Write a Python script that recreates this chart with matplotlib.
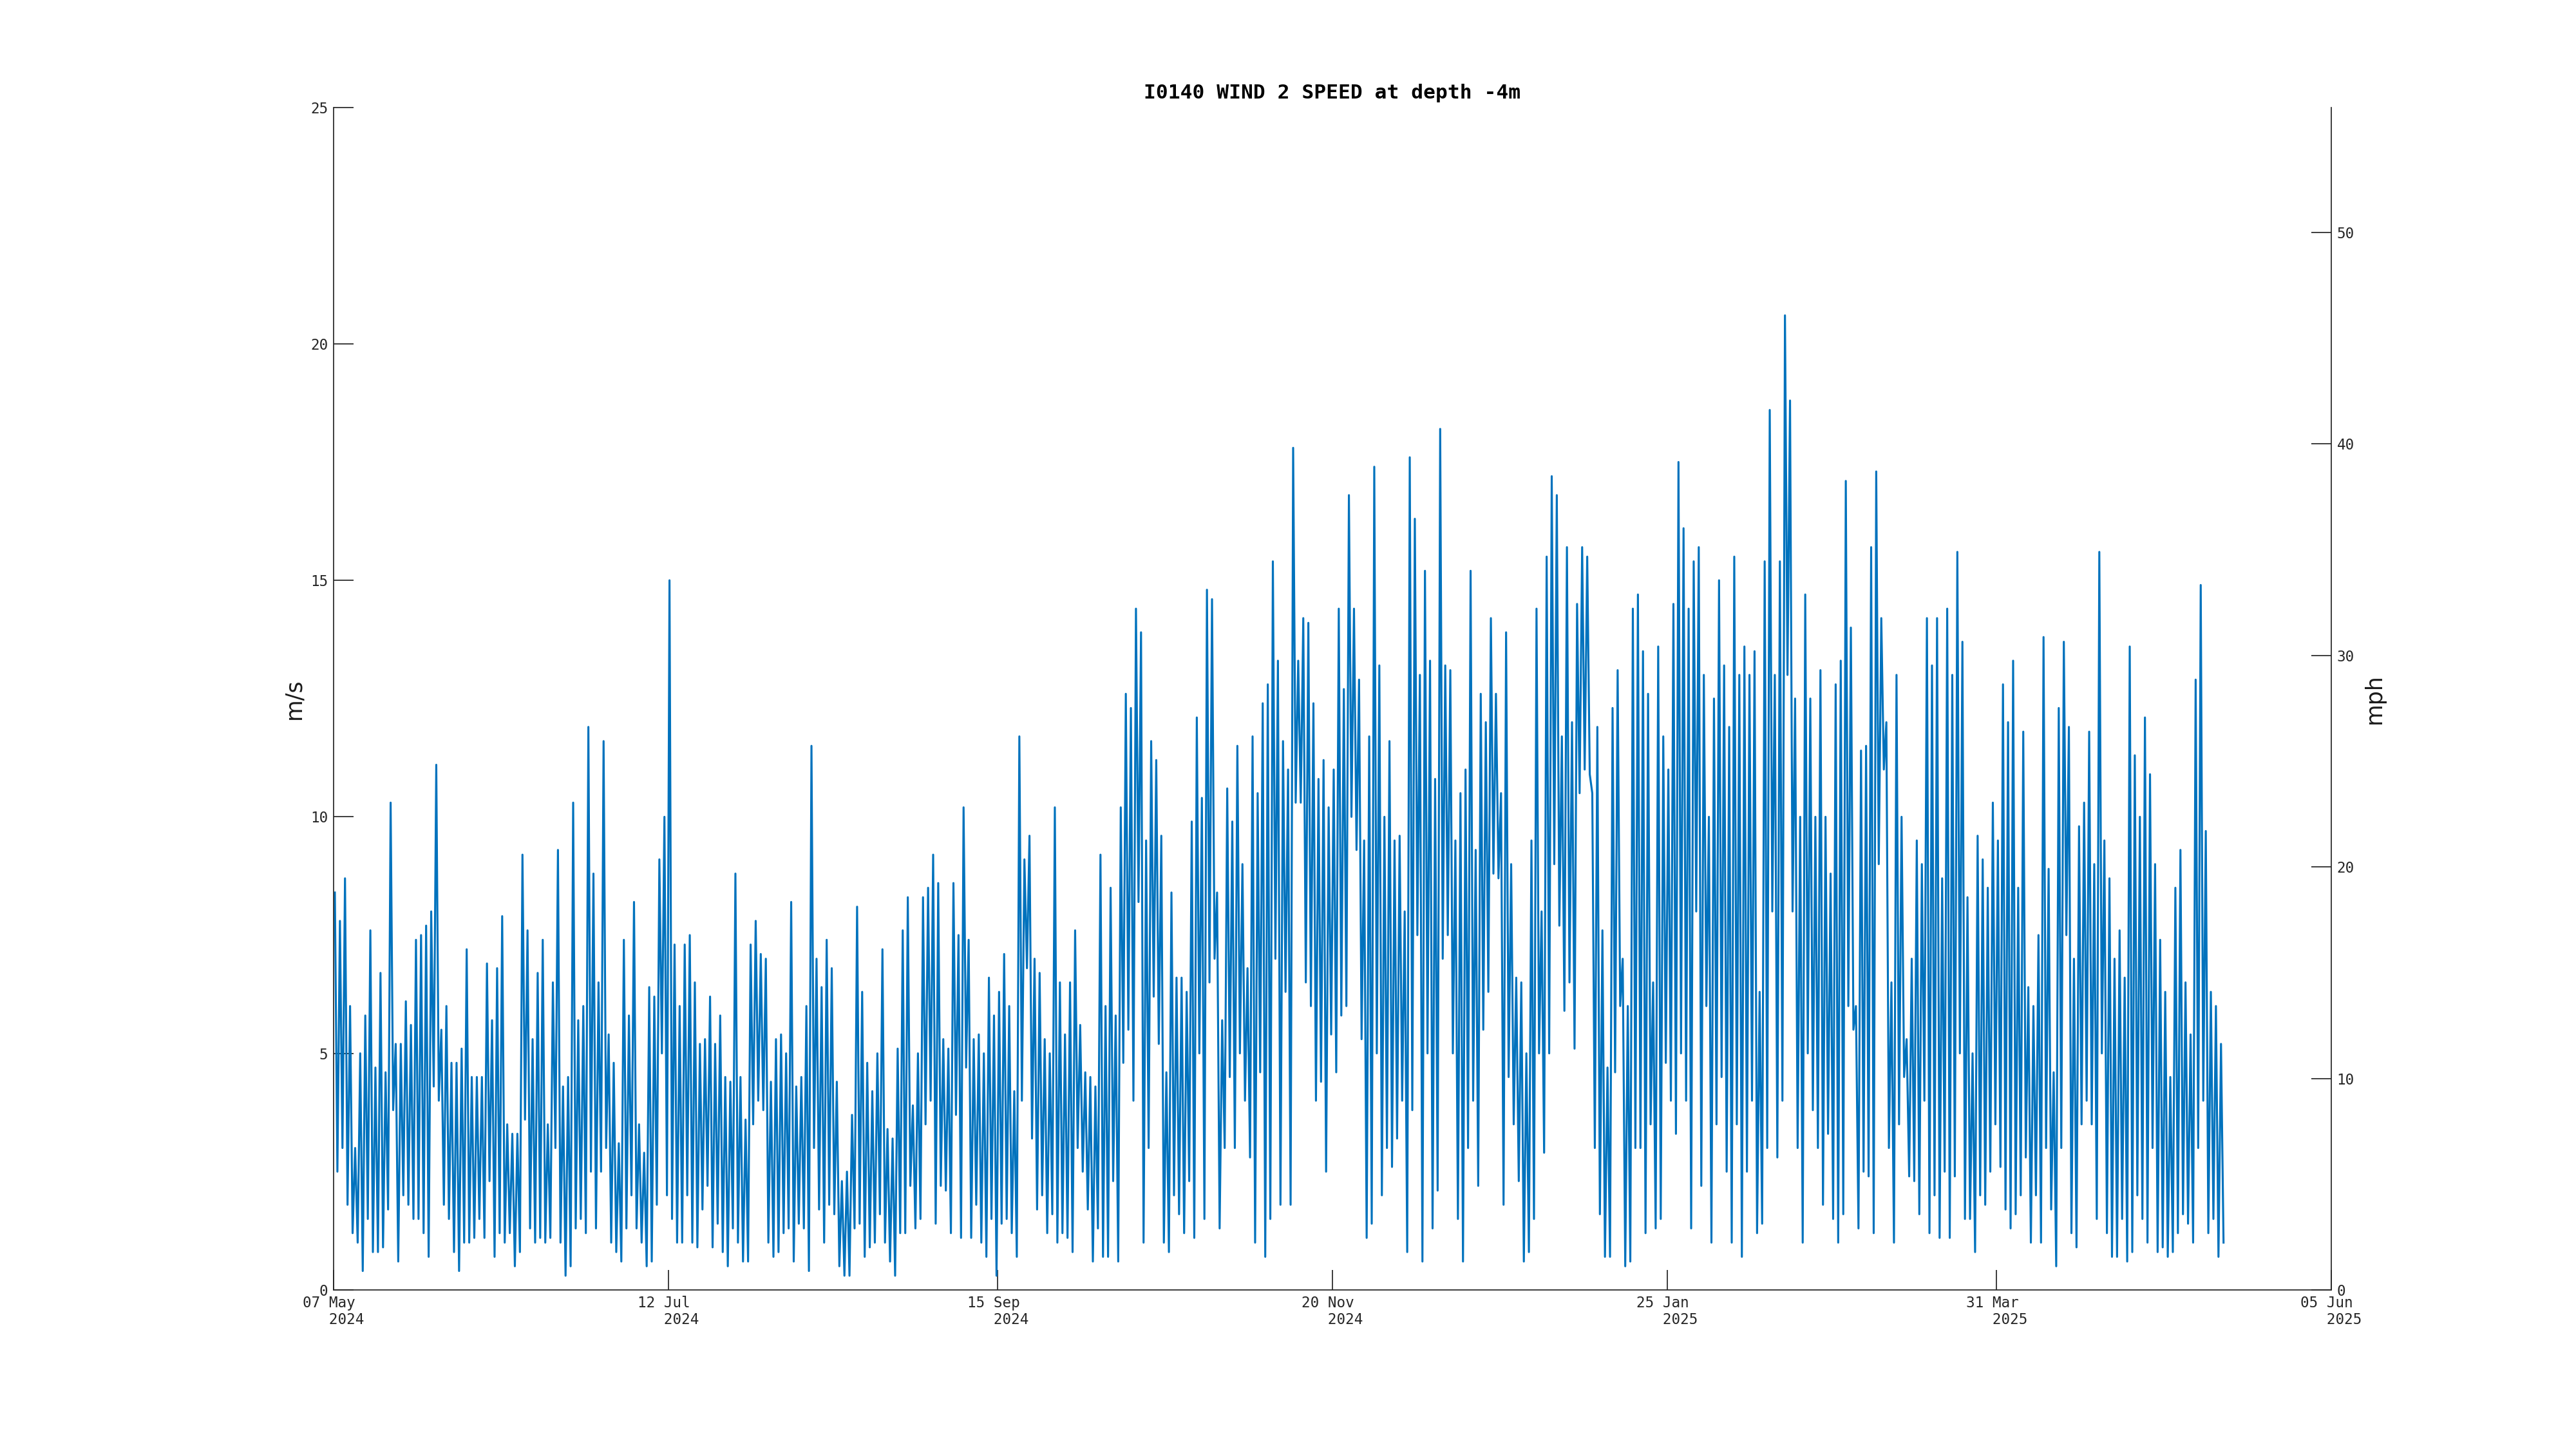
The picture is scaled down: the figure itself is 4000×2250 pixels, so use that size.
import matplotlib
matplotlib.use("Agg")
import matplotlib.pyplot as plt
from datetime import datetime, timedelta

# daily high / low wind speed (m/s), one value per day
start = datetime(2024, 5, 7)

high_may_jul = [8.4, 7.8, 8.7, 6.0, 3.0, 5.0, 5.8, 7.6, 4.7, 6.7,
                4.6, 10.3, 5.2, 5.2, 6.1, 5.6, 7.4, 7.5, 7.7, 8.0,
                11.1, 5.5, 6.0, 4.8, 4.8, 5.1, 7.2, 4.5, 4.5, 4.5,
                6.9, 5.7, 6.8, 7.9, 3.5, 3.3, 3.3, 9.2, 7.6, 5.3,
                6.7, 7.4, 3.5, 6.5, 9.3, 4.3, 4.5, 10.3, 5.7, 6.0,
                11.9, 8.8, 6.5, 11.6, 5.4, 4.8, 3.1, 7.4, 5.8, 8.2,
                3.5, 2.9, 6.4]
low_may_jul = [2.5, 3.0, 1.8, 1.2, 1.0, 0.4, 1.5, 0.8, 0.8, 0.9,
               1.7, 3.8, 0.6, 2.0, 1.8, 1.5, 1.5, 1.2, 0.7, 4.3,
               4.0, 1.8, 1.5, 0.8, 0.4, 1.0, 1.0, 1.1, 1.5, 1.1,
               2.3, 0.7, 1.2, 1.0, 1.2, 0.5, 0.8, 3.6, 1.3, 1.0,
               1.1, 1.0, 1.1, 3.0, 1.0, 0.3, 0.5, 1.3, 1.5, 1.2,
               2.5, 1.3, 2.5, 3.0, 1.0, 0.8, 0.6, 1.3, 2.0, 1.3,
               1.0, 0.5, 0.6]

high_jul_sep = [6.2, 9.1, 10.0, 15.0, 7.3, 6.0, 7.3, 7.5, 6.5, 5.2,
                5.3, 6.2, 5.2, 5.8, 4.5, 4.4, 8.8, 4.5, 3.6, 7.3,
                7.8, 7.1, 7.0, 4.4, 5.3, 5.4, 5.0, 8.2, 4.3, 4.5,
                6.0, 11.5, 7.0, 6.4, 7.4, 6.8, 4.4, 2.3, 2.5, 3.7,
                8.1, 6.3, 4.8, 4.2, 5.0, 7.2, 3.4, 3.2, 5.1, 7.6,
                8.3, 3.9, 5.0, 8.3, 8.5, 9.2, 8.6, 5.3, 5.1, 8.6,
                7.5, 10.2, 7.4, 5.3]
low_jul_sep = [1.8, 5.0, 2.0, 1.5, 1.0, 1.0, 2.0, 1.0, 0.9, 1.7,
               2.2, 0.9, 1.4, 0.8, 0.5, 1.3, 1.0, 0.6, 0.6, 3.5,
               4.0, 3.8, 1.0, 0.7, 0.8, 1.2, 1.3, 0.6, 1.4, 1.3,
               0.4, 3.0, 1.7, 1.0, 1.8, 1.6, 0.5, 0.3, 0.3, 1.3,
               1.4, 0.7, 0.9, 1.0, 1.6, 1.0, 0.6, 0.3, 1.2, 1.2,
               2.2, 1.3, 1.5, 3.5, 4.0, 1.4, 2.2, 2.1, 1.2, 3.7,
               1.1, 4.7, 1.1, 1.8]

high_sep_nov = [5.4, 5.0, 6.6, 5.8, 6.3, 7.1, 6.0, 4.2, 11.7, 9.1,
                9.6, 7.0, 6.7, 5.3, 5.0, 10.2, 6.5, 5.4, 6.5, 7.6,
                5.6, 4.6, 4.5, 4.3, 9.2, 6.0, 8.5, 5.8, 10.2, 12.6,
                12.3, 14.4, 13.9, 9.5, 11.6, 11.2, 9.6, 4.6, 8.4, 6.6,
                6.6, 6.3, 9.9, 12.1, 10.4, 14.8, 14.6, 8.4, 5.7, 10.6,
                9.9, 11.5, 9.0, 6.8, 11.7, 10.5, 12.4, 12.8, 15.4, 13.3,
                11.6, 11.0, 17.8, 13.3]
low_sep_nov = [1.0, 0.7, 1.5, 0.3, 1.4, 1.5, 1.2, 0.7, 4.0, 6.8,
               3.2, 1.7, 2.0, 1.2, 1.6, 1.0, 1.2, 1.1, 0.8, 3.0,
               2.5, 1.7, 0.6, 1.3, 0.7, 0.7, 2.3, 0.6, 4.8, 5.5,
               4.0, 8.2, 1.0, 3.0, 6.2, 5.2, 1.0, 0.8, 2.0, 1.6,
               1.2, 2.3, 1.1, 5.0, 1.5, 6.5, 7.0, 1.3, 3.0, 4.5,
               3.0, 5.0, 4.0, 2.8, 1.0, 4.6, 0.7, 1.5, 7.0, 1.8,
               6.3, 1.8, 10.3, 10.3]

high_nov_jan = [14.2, 14.1, 12.4, 10.8, 11.2, 10.2, 11.0, 14.4, 12.7, 16.8,
                14.4, 12.9, 9.5, 11.7, 17.4, 13.2, 10.0, 11.6, 9.5, 9.6,
                8.0, 17.6, 16.3, 13.0, 15.2, 13.3, 10.8, 18.2, 13.2, 13.1,
                9.5, 10.5, 11.0, 15.2, 9.3, 12.6, 12.0, 14.2, 12.6, 10.5,
                13.9, 9.0, 6.6, 6.5, 5.0, 9.5, 14.4, 8.0, 15.5, 17.2,
                16.8, 11.7, 15.7, 12.0, 14.5, 15.7, 15.5, 10.5, 11.9, 7.6,
                4.7, 12.3, 13.1]
low_nov_jan = [6.5, 6.0, 4.0, 4.4, 2.5, 5.4, 4.6, 5.8, 6.0, 10.0,
               9.3, 5.3, 1.1, 1.4, 5.0, 2.0, 3.0, 2.6, 3.2, 4.0,
               0.8, 3.8, 7.5, 0.6, 5.0, 1.3, 2.1, 7.0, 7.5, 5.0,
               1.5, 0.6, 3.0, 4.0, 2.2, 5.5, 6.3, 8.8, 8.7, 1.8,
               4.5, 3.5, 2.3, 0.6, 0.8, 1.5, 5.0, 2.9, 5.0, 9.0,
               7.7, 5.9, 6.5, 5.1, 10.5, 11.0, 10.9, 3.0, 1.6, 0.7,
               0.7, 4.6, 6.0]

high_jan_mar = [7.0, 6.0, 14.4, 14.7, 13.5, 12.6, 6.5, 13.6, 11.7, 11.0,
                14.5, 17.5, 16.1, 14.4, 15.4, 15.7, 13.0, 10.0, 12.5, 15.0,
                13.2, 11.9, 15.5, 13.0, 13.6, 13.0, 13.5, 6.3, 15.4, 18.6,
                13.0, 15.4, 20.6, 18.8, 12.5, 10.0, 14.7, 12.5, 10.0, 13.1,
                10.0, 8.8, 12.8, 13.3, 17.1, 14.0, 6.0, 11.4, 11.5, 15.7,
                17.3, 14.2, 12.0, 6.5, 13.0, 10.0, 5.3, 7.0, 9.5, 9.0,
                14.2, 13.2, 14.2, 8.7]
low_jan_mar = [0.5, 0.6, 3.0, 3.0, 1.2, 3.5, 1.3, 1.5, 4.8, 4.0,
               3.3, 5.0, 4.0, 1.3, 8.0, 2.2, 6.0, 1.0, 3.5, 4.5,
               2.5, 1.0, 3.5, 0.7, 2.5, 4.0, 1.2, 1.4, 3.0, 8.0,
               2.8, 4.0, 13.0, 8.0, 3.0, 1.0, 5.0, 3.8, 3.0, 1.8,
               3.3, 1.5, 1.0, 1.6, 6.0, 5.5, 1.3, 2.5, 2.4, 1.2,
               9.0, 11.0, 3.0, 1.0, 3.5, 4.5, 2.4, 2.3, 1.6, 4.0,
               1.2, 2.0, 1.1, 2.5]

high_mar_may = [14.4, 13.0, 15.6, 13.7, 8.3, 5.0, 9.6, 9.1, 8.5, 10.3,
                9.5, 12.8, 12.0, 13.3, 8.5, 11.8, 6.4, 6.0, 7.5, 13.8,
                8.9, 4.6, 12.3, 13.7, 11.9, 7.0, 9.8, 10.3, 11.8, 9.0,
                15.6, 9.5, 8.7, 7.0, 7.6, 6.6, 13.6, 11.3, 10.0, 12.1,
                10.9, 9.0, 7.4, 6.3, 4.5, 8.5, 9.3, 6.5, 5.4, 12.9,
                14.9, 9.7, 6.3, 6.0, 5.2]
low_mar_may = [1.1, 2.4, 5.0, 1.5, 1.5, 0.8, 2.0, 1.8, 2.5, 3.5,
               2.6, 1.7, 1.3, 1.6, 2.0, 2.8, 1.0, 2.0, 1.0, 3.0,
               1.7, 0.5, 3.0, 7.5, 1.2, 0.9, 3.5, 4.0, 3.5, 1.5,
               5.0, 1.2, 0.7, 0.7, 1.5, 0.6, 0.8, 2.0, 1.5, 1.0,
               3.0, 0.8, 0.9, 0.7, 0.8, 1.2, 1.6, 1.4, 1.0, 3.0,
               4.0, 1.2, 1.5, 0.7, 1.0]

daily_high = high_may_jul + high_jul_sep + high_sep_nov + high_nov_jan + high_jan_mar + high_mar_may
daily_low = low_may_jul + low_jul_sep + low_sep_nov + low_nov_jan + low_jan_mar + low_mar_may

tick_dates = [datetime(2024, 5, 7), datetime(2024, 7, 12), datetime(2024, 9, 15),
              datetime(2024, 11, 20), datetime(2025, 1, 25), datetime(2025, 3, 31),
              datetime(2025, 6, 5)]

MS_TO_MPH = 2.23694

times = []
speed = []
for i, (hi, lo) in enumerate(zip(daily_high, daily_low)):
    times += [start + timedelta(hours=24 * i + 6), start + timedelta(hours=24 * i + 18)]
    speed += [hi, lo]

plt.rcParams['font.family'] = ['DejaVu Sans Mono']

fig = plt.figure(figsize=(16, 9), dpi=250)
ax = fig.add_axes([0.1295, 0.1098, 0.7755, 0.8162])
ax.plot(times, speed, color='#0072BD', lw=0.9)

ax.set_xlim(tick_dates[0], tick_dates[-1])
ax.set_ylim(0, 25)
ax.set_yticks([0, 5, 10, 15, 20, 25])
ax.set_xticks(tick_dates)
ax.set_xticklabels([f"{d:%d %b}\n   {d:%Y}" for d in tick_dates], multialignment='left')
ax.tick_params(direction='in', length=9, width=0.5, labelsize=6.5, pad=2.5,
               color='0.15', labelcolor='0.15')
for s in ['top', 'right']:
    ax.spines[s].set_visible(False)
for s in ['left', 'bottom']:
    ax.spines[s].set_linewidth(0.5)
    ax.spines[s].set_color('0.15')
ax.set_ylabel('m/s', family='DejaVu Sans', fontsize=10, labelpad=2.5, color='0.1')
ax.set_title('I0140 WIND 2 SPEED at depth -4m', fontsize=9, fontweight='bold', pad=4)

ax2 = ax.twinx()
ax2.set_ylim(0, 25 * MS_TO_MPH)
ax2.set_yticks([0, 10, 20, 30, 40, 50])
ax2.tick_params(direction='in', length=9, width=0.5, labelsize=6.5, pad=2.5,
                color='0.15', labelcolor='0.15')
for s in ['top', 'left', 'bottom']:
    ax2.spines[s].set_visible(False)
ax2.spines['right'].set_linewidth(0.5)
ax2.spines['right'].set_color('0.15')
ax2.set_ylabel('mph', family='DejaVu Sans', fontsize=10, labelpad=4, color='0.1')

fig.savefig('out.png', dpi=250, facecolor='white')
